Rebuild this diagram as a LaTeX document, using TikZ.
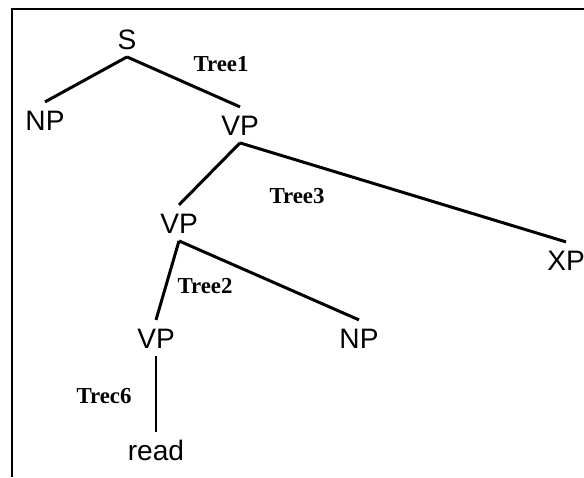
\documentclass[tikz,border=0pt]{standalone}
\usepackage{fontspec}
\setmainfont{Liberation Serif}
\setsansfont{Liberation Sans}

\tikzset{
  cat/.style={font=\sffamily\fontsize{16}{18}\selectfont, inner sep=0pt,
    outer ysep=4.5pt, text height=11.5pt, text depth=0pt, anchor=base},
  tree label/.style={font=\bfseries\fontsize{13}{15}\selectfont,
    inner sep=0pt, anchor=base}
}

\begin{document}
\begin{tikzpicture}[x=0.02cm, y=-0.02cm, line width=1.7pt]

		\useasboundingbox (0,0) rectangle (584,477);
		% box round the tree (top and left side only)
		\draw [line width=1.1pt] (12,477) -- (12,9) -- (584,9);

		% categories
		\node [cat] (s) at (127,49) {S};
		\node [cat] (np-1) at (45,130) {NP};
		\node [cat] (vp-1) at (240,135) {VP};
		\node [cat] (vp-2) at (179,233) {VP};
		\node [cat] (xp) at (566,270) {XP};
		\node [cat] (vp-3) at (156,348) {VP};
		\node [cat] (np-2) at (359,348) {NP};
		\node [cat] (read) at (156,460) {read};

		% branches
		\draw (s.south) -- (np-1.north);
		\draw (s.south) -- (vp-1.north);
		\draw (vp-1.south) -- (vp-2.north);
		\draw (vp-1.south) -- (xp.north);
		\draw (vp-2.south) -- (vp-3.north);
		\draw (vp-2.south) -- (np-2.north);
		\draw (vp-3.south) -- (read.north);

		% elementary trees
		\node [tree label] (tree-1) at (221,71) {Tree1};
		\node [tree label] (tree-3) at (297,203) {Tree3};
		\node [tree label] (tree-2) at (205,293) {Tree2};
		\node [tree label] (tree-6) at (104,403) {Trec6};

\end{tikzpicture}
\end{document}
